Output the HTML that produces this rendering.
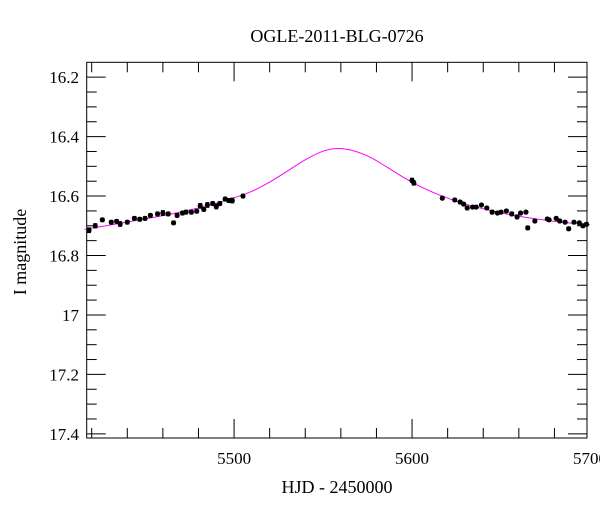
<!DOCTYPE html>
<html><head><meta charset="utf-8"><style>
body{margin:0;background:#fff;width:600px;height:512px;overflow:hidden}
text{font-family:"Liberation Serif","DejaVu Serif",serif;fill:#000}
</style></head><body>
<svg id="chart" width="600" height="512" xmlns="http://www.w3.org/2000/svg">
<text x="337" y="42" font-size="18" text-anchor="middle">OGLE-2011-BLG-0726</text>
<text x="337" y="493" font-size="18" text-anchor="middle">HJD - 2450000</text>
<text transform="translate(26,252) rotate(-90)" font-size="18" text-anchor="middle">I magnitude</text>
<g id="axes"></g><g id="model"></g><g id="points"></g>
</svg>
<script>
const obsT=[5418.5,5422,5426,5431,5434,5436,5440,5444,5447,5450,5453,5457,5460,5463,5466,5468,5471,5473,5476,5479,5481,5483,5485,5488,5490,5492,5495,5497,5499,5505,5600,5601,5617,5624,5627,5629,5631,5634,5636,5639,5642,5645,5648,5650,5653,5656,5659,5661,5664,5665,5669,5676,5677,5681,5683,5686,5688,5691,5694,5696,5698];
const obsMag=[16.715,16.70,16.68,16.688,16.685,16.694,16.688,16.675,16.678,16.675,16.665,16.66,16.657,16.66,16.69,16.665,16.657,16.654,16.654,16.651,16.633,16.645,16.63,16.625,16.635,16.625,16.61,16.615,16.615,16.60,16.547,16.556,16.607,16.613,16.62,16.627,16.64,16.637,16.637,16.63,16.64,16.654,16.657,16.654,16.65,16.66,16.67,16.657,16.654,16.707,16.684,16.677,16.68,16.675,16.684,16.688,16.71,16.688,16.69,16.70,16.695];
const obsErr=[0.008,0.007,0.006,0.006,0.006,0.008,0.006,0.006,0.006,0.006,0.006,0.006,0.008,0.006,0.006,0.006,0.006,0.006,0.006,0.006,0.008,0.006,0.008,0.006,0.008,0.006,0.006,0.006,0.008,0.006,0.007,0.007,0.005,0.005,0.005,0.005,0.006,0.005,0.005,0.005,0.005,0.006,0.005,0.005,0.005,0.006,0.006,0.005,0.005,0.006,0.005,0.005,0.005,0.005,0.005,0.005,0.006,0.005,0.005,0.006,0.006];
const modelT=[5416,5430,5445,5460,5475,5490,5500,5510,5520,5530,5540,5550,5558,5566,5576,5586,5596,5606,5616,5630,5645,5660,5680,5700];
const modelMag=[16.712,16.698,16.682,16.666,16.647,16.624,16.606,16.584,16.553,16.516,16.478,16.449,16.440,16.446,16.468,16.503,16.540,16.572,16.598,16.627,16.650,16.668,16.685,16.697];
const xTicks=[5500,5600,5700];
const yTicks=[16.2,16.4,16.6,16.8,17,17.2,17.4];
const yTickLabels=["16.2","16.4","16.6","16.8","17","17.2","17.4"];

const L=86.7,R=587,T=62.3,B=438;
const X0=5417.2,X1=5698.3,Y0=16.15,Y1=17.414;
const sx=t=>L+(t-X0)/(X1-X0)*(R-L);
const sy=m=>T+(m-Y0)/(Y1-Y0)*(B-T);
const NS="http://www.w3.org/2000/svg";
function mk(tag,attrs,parent){const e=document.createElementNS(NS,tag);for(const k in attrs)e.setAttribute(k,attrs[k]);parent.appendChild(e);return e;}
const axes=document.getElementById('axes');
const frame=mk('rect',{x:L,y:T,width:R-L,height:B-T,fill:'none',stroke:'#000','stroke-width':1},axes);


for(let t=5420;t<=5690;t+=20){
  const major=t%100===0, len=major?19:10, x=sx(t);
  const a=mk('line',{x1:x,x2:x,y1:B,y2:B-len,stroke:'#000','stroke-width':1},axes);
  
  
  const b=mk('line',{x1:x,x2:x,y1:T,y2:T+len,stroke:'#000','stroke-width':1},axes);
  
  
}
xTicks.forEach(t=>{
  const tx=mk('text',{x:sx(t),y:464,'font-size':17,'text-anchor':'middle'},axes);tx.textContent=t;
  
  
});
for(let i=0;i<=24;i++){
  const m=16.2+i*0.05, major=i%4===0, len=major?19:10, y=sy(m);
  const a=mk('line',{x1:L,x2:L+len,y1:y,y2:y,stroke:'#000','stroke-width':1},axes);
  
  
  const b=mk('line',{x1:R,x2:R-len,y1:y,y2:y,stroke:'#000','stroke-width':1},axes);
  
  
}
yTicks.forEach((m,i)=>{
  const tx=mk('text',{x:79,y:sy(m)+6,'font-size':17,'text-anchor':'end'},axes);tx.textContent=yTickLabels[i];
  
  
});
const pts=modelT.map((t,i)=>[sx(t),sy(modelMag[i])]);
let d='M'+pts[0][0]+','+pts[0][1];
for(let i=0;i<pts.length-1;i++){
  const p0=pts[Math.max(0,i-1)],p1=pts[i],p2=pts[i+1],p3=pts[Math.min(pts.length-1,i+2)];
  d+=' C'+(p1[0]+(p2[0]-p0[0])/6)+','+(p1[1]+(p2[1]-p0[1])/6)+' '+(p2[0]-(p3[0]-p1[0])/6)+','+(p2[1]-(p3[1]-p1[1])/6)+' '+p2[0]+','+p2[1];
}
const model=document.getElementById('model');
const mp=mk('path',{d:d,fill:'none',stroke:'#ff00ff','stroke-width':1},model);


const pg=document.getElementById('points');
obsT.forEach((t,i)=>{
  const x=sx(t),y=sy(obsMag[i]),e=obsErr[i]*(B-T)/(Y1-Y0);
  const g=mk('g',{},pg);
  
  
  mk('line',{x1:x,x2:x,y1:y-e,y2:y+e,stroke:'#000','stroke-width':1},g);
  mk('line',{x1:x-2,x2:x+2,y1:y-e,y2:y-e,stroke:'#000','stroke-width':1},g);
  mk('line',{x1:x-2,x2:x+2,y1:y+e,y2:y+e,stroke:'#000','stroke-width':1},g);
  mk('circle',{cx:x,cy:y,r:2.6,fill:'#000'},g);
});
</script>
</body></html>
